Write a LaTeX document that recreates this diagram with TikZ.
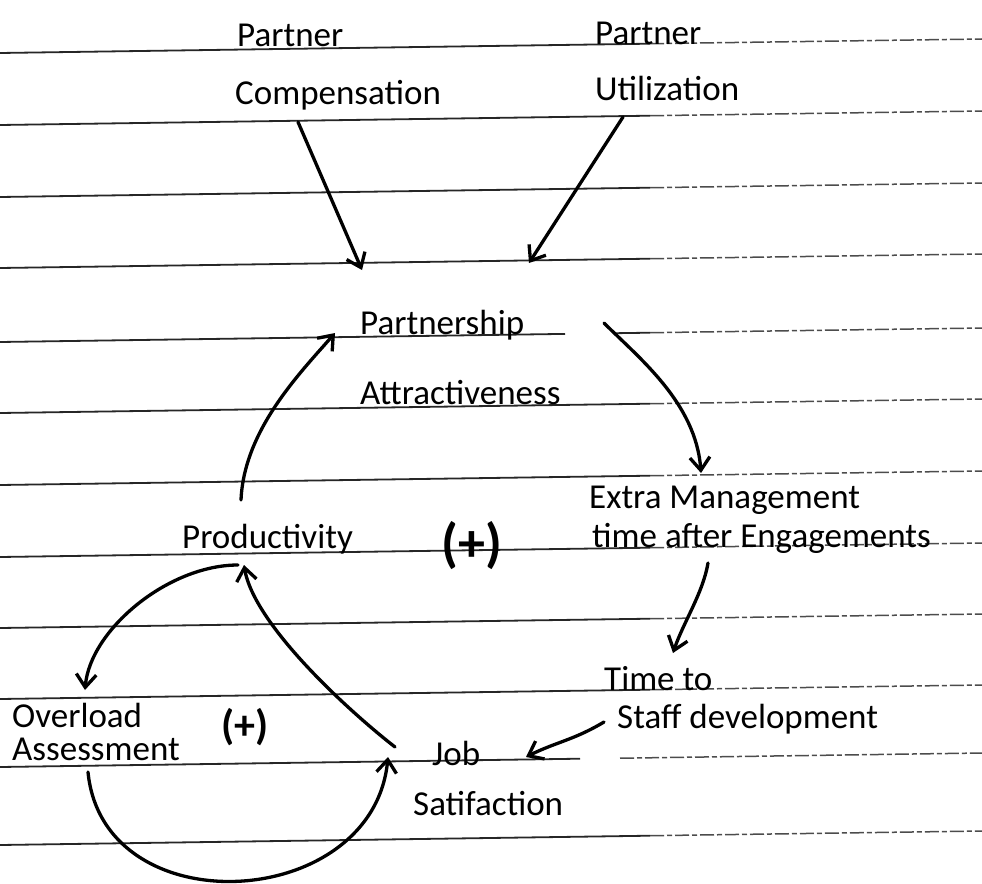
\documentclass[tikz,border=0pt]{standalone}
\usepackage{fontspec}
\setmainfont{Carlito}
\usetikzlibrary{arrows.meta}
\begin{document}
\begin{tikzpicture}[x=1pt,y=-1pt,
  lbl/.style={anchor=base west, inner sep=0pt, font=\fontsize{35}{40}\selectfont},
  loopsign/.style={anchor=center, inner sep=0pt, font=\bfseries\fontsize{54}{58}\selectfont},
  link/.style={line width=3.3pt, -{Straight Barb[length=13pt,width=20pt]}, line cap=round, line join=round},
  rule/.style={line width=1.8pt, black!85},
  ruletail/.style={line width=1.5pt, black!70, dash pattern=on 14pt off 3pt on 5pt off 3pt}]
\useasboundingbox (0,0) rectangle (982,883);
\fill[white] (0,0) rectangle (982,883);

% ruled paper: solid on the left, fading into dashes on the right
\foreach \L in {53,125,197,268,413,485,557,628,699,845}{
  \draw[rule] (0,\L) -- (650,\L-9.3);
  \draw[ruletail] (650,\L-9.3) -- (982,\L-14);
}
% two lines with breaks beside the text
\draw[rule] (0,342) -- (565,342-8.1);
\draw[rule] (615,342-8.8) -- (650,342-9.3);
\draw[ruletail] (650,342-9.3) -- (982,342-14);
\draw[rule] (0,767) -- (580,767-8.3);
\draw[ruletail] (620,767-8.8) -- (982,767-14);

% labels
\node[lbl] (pcA) at (237,47) {Partner};
\node[lbl] (pcB) at (235,104) {Compensation};
\node[lbl] (puA) at (595,45) {Partner};
\node[lbl] (puB) at (595,100) {Utilization};
\node[lbl] (paA) at (360,334) {Partnership};
\node[lbl] (paB) at (360,404) {Attractiveness};
\node[lbl] (emA) at (589,508) {Extra Management};
\node[lbl] (emB) at (592,547) {time after Engagements};
\node[lbl] (prod) at (182,548) {Productivity};
\node[lbl] (tsA) at (604,690) {Time to};
\node[lbl] (tsB) at (617,728) {Staff development};
\node[lbl] (jsA) at (432,765) {Job};
\node[lbl] (jsB) at (413,815) {Satifaction};
\node[lbl] (oaA) at (12,727) {Overload};
\node[lbl] (oaB) at (12,760) {Assessment};
\node[loopsign] (r1) at (472,546) {(+)};
\node[loopsign, font=\bfseries\fontsize{42}{46}\selectfont] (r2) at (245,727) {(+)};

% causal links
\draw[link] ([shift={(63,18)}]pcB.base west) -- ([shift={(2,-64)}]paA.base west);
\draw[link] ([shift={(28,17)}]puB.base west) -- ([shift={(169,-71)}]paA.base west);
\draw[link] ([shift={(59,-48)}]prod.base west) .. controls +(3,-70) and +(-35,40) .. ([shift={(-25,-1)}]paA.base west);
\draw[link] ([shift={(244,-11)}]paA.base west) .. controls +(35,35) and +(-5,-70) .. ([shift={(112,-35)}]emA.base west);
\draw[link] ([shift={(116,16)}]emB.base west) .. controls +(-5,30) and +(10,-30) .. ([shift={(69,-37)}]tsA.base west);
\draw[link] ([shift={(-13,-6)}]tsB.base west) .. controls +(-30,18) and +(30,-15) .. ([shift={(94,-8)}]jsA.base west);
\draw[link] ([shift={(-37,-18)}]jsA.base west) .. controls +(-45,-35) and +(10,60) .. ([shift={(62,17)}]prod.base west);
\draw[link] ([shift={(56,17)}]prod.base west) .. controls +(-70,0) and +(5,-60) .. ([shift={(73,-37)}]oaA.base west);
\draw[link] ([shift={(76,12)}]oaB.base west) .. controls +(15,155) and +(-15,155) .. ([shift={(-44,-8)}]jsA.base west);
\end{tikzpicture}
\end{document}
